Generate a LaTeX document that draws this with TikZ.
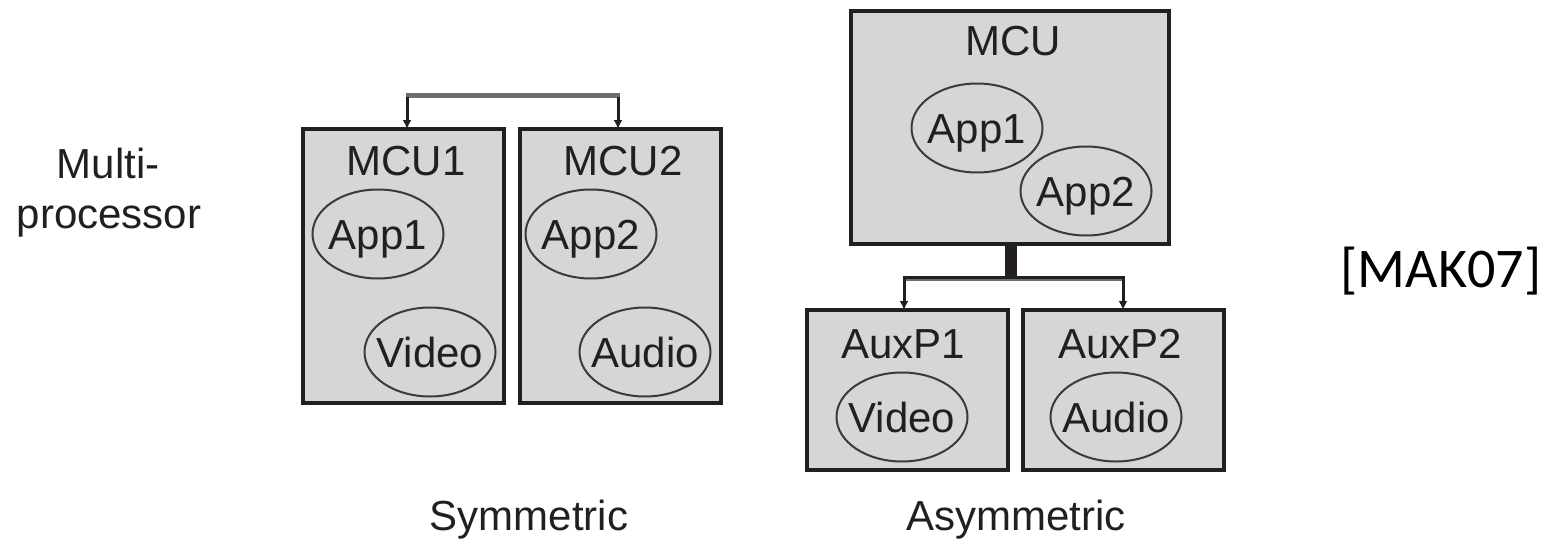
\documentclass[tikz,border=0pt]{standalone}
\usepackage{fontspec}
\setmainfont{Liberation Sans}
\newfontfamily\calib{Carlito}
\usetikzlibrary{shapes.geometric,arrows.meta,calc}
\definecolor{boxfill}{HTML}{D5D6D8}
\definecolor{ink}{HTML}{231F20}
\definecolor{ellink}{HTML}{3A3A3A}
\definecolor{busgray}{HTML}{6E6E6E}
\tikzset{
  procbox/.style={draw=ink, fill=boxfill, line width=4pt, rectangle, inner sep=0pt, outer sep=0pt},
  ell/.style={draw=ellink, line width=2pt, ellipse, minimum width=131pt, minimum height=89pt, inner sep=0pt},
  txt/.style={font=\fontsize{42}{48}\selectfont, text=ink, inner sep=0pt, anchor=base},
  bus/.style={draw=ink, line width=3pt, -{Latex[length=9pt,width=9pt]}},
}
\begin{document}
\begin{tikzpicture}[x=1pt,y=-1pt]
\useasboundingbox (0,0) rectangle (1552,538);
% Left label
\node[txt] (multi1) at (108,178) {Multi-};
\node[txt] (multi2) at (109,228) {processor};
% Symmetric
\node[procbox, minimum width=201pt, minimum height=274pt] (mcu1) at (403.5,266) {};
\node[procbox, minimum width=201pt, minimum height=274pt] (mcu2) at (620.5,266) {};
\node[txt] (mcu1t) at (406,175) {MCU1};
\node[txt] (mcu2t) at (623,175) {MCU2};
\node[ell] (s1) at (378,234) {};
\node[txt] at ([yshift=-15pt]s1.center) {App1};
\node[ell] (s2) at (430,352) {};
\node[txt] at ([yshift=-15pt]s2.center) {Video};
\node[ell] (s3) at (591,234) {};
\node[txt] at ([yshift=-15pt]s3.center) {App2};
\node[ell] (s4) at (645,352) {};
\node[txt] at ([yshift=-15pt]s4.center) {Audio};
\coordinate (b1) at (407,95);
\coordinate (b2) at (618,95);
\draw[busgray, line width=5pt] ([xshift=-1.5pt]b1) -- ([xshift=1.5pt]b2);
\draw[bus] ([yshift=-2pt]b1) -- (b1 |- mcu1.north);
\draw[bus] ([yshift=-2pt]b2) -- (b2 |- mcu2.north);
\node[txt] (sym) at (529,530) {Symmetric};
% Asymmetric
\node[procbox, minimum width=318pt, minimum height=233pt] (mcu) at (1010,127.5) {};
\node[txt] (mcut) at (1013,55) {MCU};
\node[ell] (a1) at (977,128) {};
\node[txt] at ([yshift=-15pt]a1.center) {App1};
\node[ell] (a2) at (1086,191) {};
\node[txt] at ([yshift=-15pt]a2.center) {App2};
\node[procbox, minimum width=201pt, minimum height=160pt] (aux1) at (907.5,390) {};
\node[procbox, minimum width=201pt, minimum height=160pt] (aux2) at (1123.5,390) {};
\node[txt] (aux1t) at (903,358) {AuxP1};
\node[txt] (aux2t) at (1120,358) {AuxP2};
\node[ell] (a3) at (902,417) {};
\node[txt] at ([yshift=-15pt]a3.center) {Video};
\node[ell] (a4) at (1116,417) {};
\node[txt] at ([yshift=-15pt]a4.center) {Audio};
\coordinate (j) at (1011,278);
\coordinate (c1) at (904,278);
\coordinate (c2) at (1123,278);
\draw[ink, line width=12pt] (j |- mcu.south) -- (j);
\draw[busgray, line width=5pt] ([xshift=-1.5pt]c1) -- ([xshift=1.5pt]c2);
\draw[ink, line width=3pt] ([xshift=-1.5pt,yshift=1pt]c1) -- ([xshift=1.5pt,yshift=1pt]c2);
\draw[bus] (c1) -- (c1 |- aux1.north);
\draw[bus] (c2) -- (c2 |- aux2.north);
\node[txt] (asym) at (1016,530) {Asymmetric};
% Reference
\node[font=\calib\fontsize{56}{60}\selectfont, inner sep=0pt, anchor=base] (ref) at (1441,287) {[MAK07]};
\end{tikzpicture}
\end{document}
